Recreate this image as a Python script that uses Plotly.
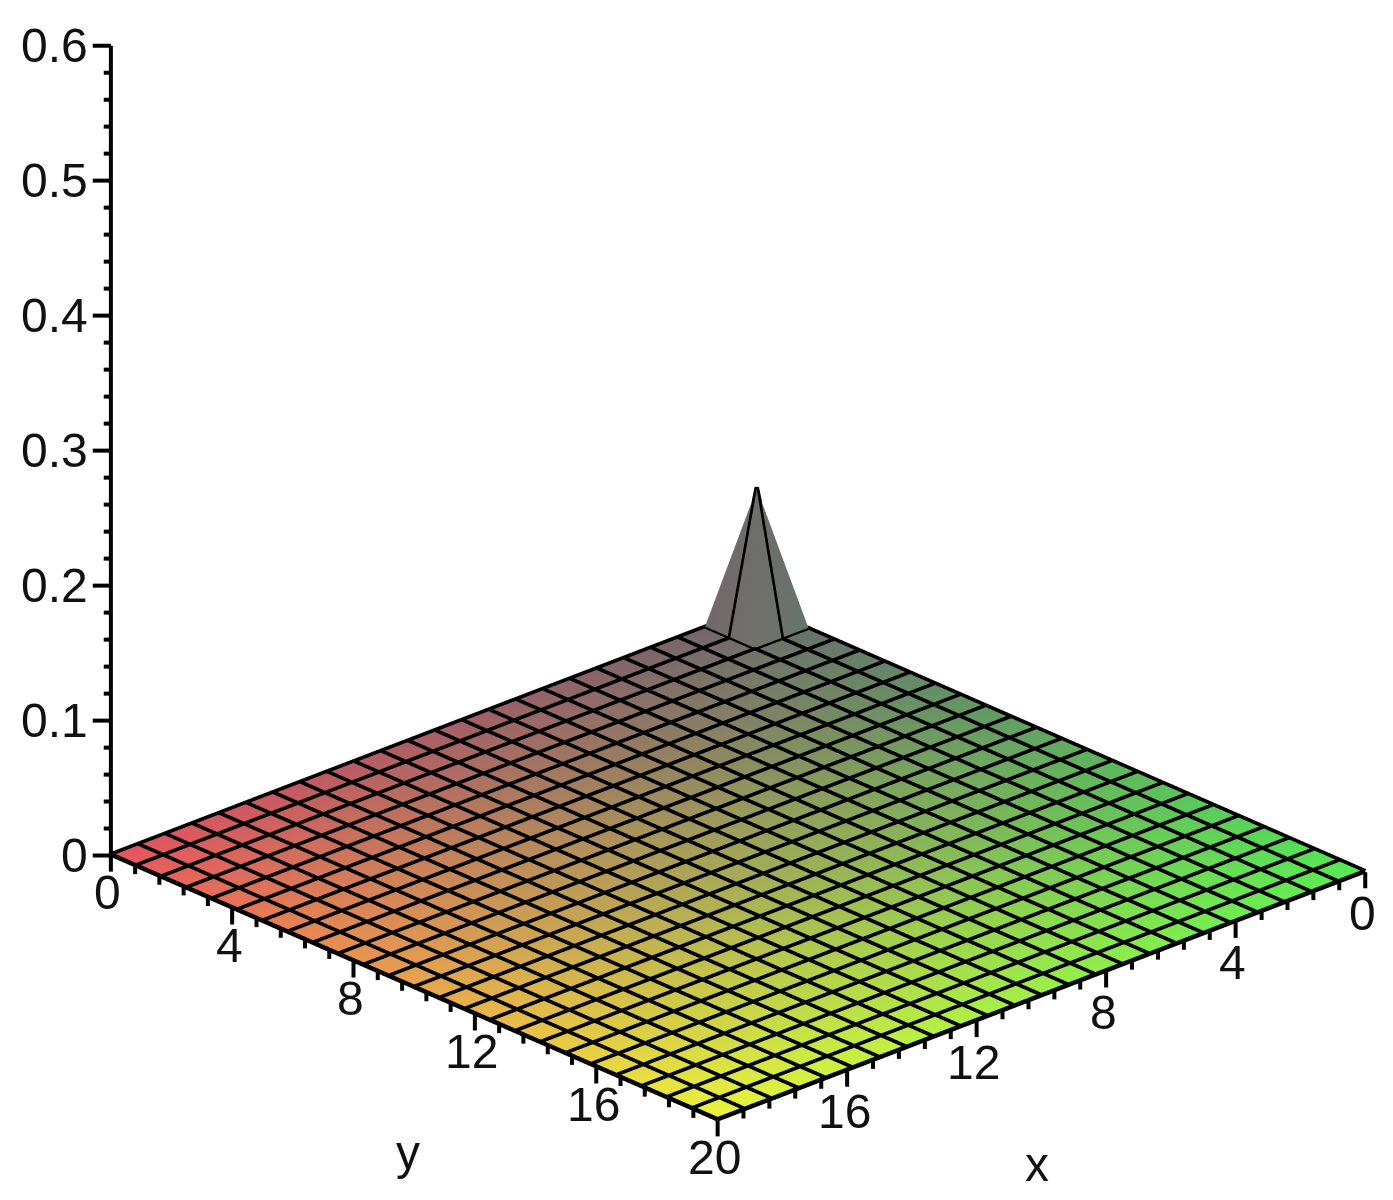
import plotly.graph_objects as go

# Surface: 25 x 25 grid over [0,20]^2, flat at 0 with one spike
grid_n = 25
peak_index = (1, 1)
peak_z = 0.104
x_ticks = [0, 4, 8, 12, 16, 20]
y_ticks = [0, 4, 8, 12, 16, 20]
z_ticks = [0, 0.1, 0.2, 0.3, 0.4, 0.5, 0.6]
xy_minor_step = 0.8
z_minor_step = 0.02
# corner colours (x=0/20, y=0/20)
col_00 = (105, 105, 110)
col_20_0 = (232, 85, 95)
col_0_20 = (85, 235, 85)
col_20_20 = (235, 245, 60)

gx = [20 * i / (grid_n - 1) for i in range(grid_n)]
gy = [20 * j / (grid_n - 1) for j in range(grid_n)]
z_grid = [[peak_z if (i, j) == peak_index else 0.0 for j in range(grid_n)] for i in range(grid_n)]

PX = 885.0  # on-screen length of a full axis side
XY_PX = 20 / PX
Z_PX = 0.6 / (PX * 0.9126)


def colour(i, j):
    a, b = i / (grid_n - 1), j / (grid_n - 1)
    c = [(1-a)*(1-b)*p + a*(1-b)*q + (1-a)*b*r + a*b*s
         for p, q, r, s in zip(col_00, col_20_0, col_0_20, col_20_20)]
    return "rgb(%d,%d,%d)" % tuple(c)


vx, vy, vz, vc, ti, tj, tk = [], [], [], [], [], [], []
for i in range(grid_n):
    for j in range(grid_n):
        vx.append(gx[i]); vy.append(gy[j]); vz.append(z_grid[i][j]); vc.append(colour(i, j))
idx = lambda i, j: i * grid_n + j
for i in range(grid_n - 1):
    for j in range(grid_n - 1):
        a, b, c, d = idx(i, j), idx(i+1, j), idx(i+1, j+1), idx(i, j+1)
        if (i, j) == (0, 1) or (i, j) == (1, 0):
            tris = [(a, b, d), (b, c, d)]
        else:
            tris = [(a, b, c), (a, c, d)]
        for t in tris:
            ti.append(t[0]); tj.append(t[1]); tk.append(t[2])

fig = go.Figure()
fig.add_trace(go.Mesh3d(x=vx, y=vy, z=vz, i=ti, j=tj, k=tk, vertexcolor=vc, flatshading=False,
                        lighting=dict(ambient=1, diffuse=0, specular=0, roughness=1, fresnel=0),
                        hoverinfo="skip", showscale=False))
# grid lines
lx, ly, lz = [], [], []
for i in range(grid_n):
    for j in range(grid_n):
        lx.append(gx[i]); ly.append(gy[j]); lz.append(z_grid[i][j] + 0.0008)
    lx.append(None); ly.append(None); lz.append(None)
for j in range(grid_n):
    for i in range(grid_n):
        lx.append(gx[i]); ly.append(gy[j]); lz.append(z_grid[i][j] + 0.0008)
    lx.append(None); ly.append(None); lz.append(None)
fig.add_trace(go.Scatter3d(x=lx, y=ly, z=lz, mode="lines", line=dict(color="black", width=9),
                           hoverinfo="skip", showlegend=False))

# axes, ticks
ax, ay, az = [0.0 + 20, 20, None], [0, 0, None], [0, 0.6, None]
# z ticks go horizontally left on screen
n = int(round(0.6 / z_minor_step))
for m in range(n + 1):
    zv = m * z_minor_step
    major = m % 5 == 0
    L = 18 if major else 7
    ax += [20, 20 + 0.73 * L * XY_PX, None]
    ay += [0, -0.684 * L * XY_PX, None]
    az += [zv, zv, None]
# x/y ticks go straight down on screen
n = int(round(20 / xy_minor_step))
for m in range(n + 1):
    v = m * xy_minor_step
    major = m % 5 == 0
    L = (16 if major else 8) * Z_PX
    ax += [20, 20, None]; ay += [v, v, None]; az += [0, -L, None]
    ax += [v, v, None]; ay += [20, 20, None]; az += [0, -L, None]
fig.add_trace(go.Scatter3d(x=ax, y=ay, z=az, mode="lines", line=dict(color="black", width=8),
                           hoverinfo="skip", showlegend=False))

font = dict(family="Liberation Sans Narrow, Liberation Sans, sans-serif", size=48, color="#111")
ann = []
for v in z_ticks:
    ann.append(dict(x=20, y=0, z=v, text=str(v), showarrow=False, xanchor="right", yanchor="middle",
                    xshift=-21, yshift=0, font=font))
for v in y_ticks:
    ann.append(dict(x=20, y=v, z=0, text=str(v), showarrow=False, xanchor="center", yanchor="middle",
                    xshift=-3, yshift=-37, font=font))
for v in x_ticks[:-1]:
    ann.append(dict(x=v, y=20, z=0, text=str(v), showarrow=False, xanchor="center", yanchor="middle",
                    xshift=-3, yshift=-41, font=font))
ann.append(dict(x=20, y=10, z=0, text="y", showarrow=False, xshift=-6, yshift=-165, font=font))
ann.append(dict(x=10, y=20, z=0, text="x", showarrow=False, xshift=-4, yshift=-168, font=font))

hidden = dict(visible=False, showspikes=False)
r = 1.627
d = 3.0
dirn = (0.624, 0.666, 0.409)
center = (0.1102, 0.0359, -0.2267)
fig.update_layout(
    width=1393, height=1200, margin=dict(l=0, r=0, t=0, b=0), paper_bgcolor="white",
    scene=dict(
        domain=dict(x=[0, 1], y=[0, 1]),
        aspectmode="manual", aspectratio=dict(x=r, y=r, z=r),
        xaxis=dict(hidden, range=[-1, 21]),
        yaxis=dict(hidden, range=[-1, 21]),
        zaxis=dict(hidden, range=[-0.03, 0.63]),
        annotations=ann,
        camera=dict(projection=dict(type="orthographic"),
                    center=dict(x=center[0], y=center[1], z=center[2]),
                    eye=dict(x=center[0]+d*dirn[0], y=center[1]+d*dirn[1], z=center[2]+d*dirn[2]),
                    up=dict(x=0, y=0, z=1)),
    ),
)
fig.write_html("out.html")
